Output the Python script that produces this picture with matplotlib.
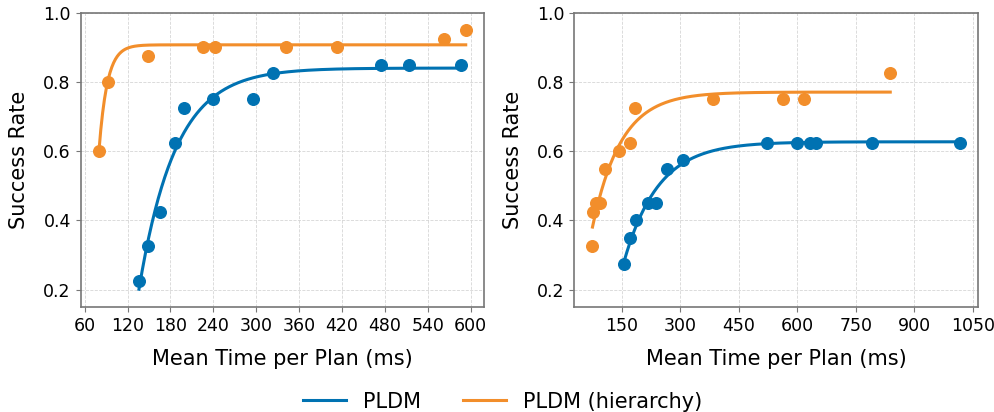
import numpy as np
import matplotlib
matplotlib.use("Agg")
from matplotlib import pyplot as plt

# left panel
left_pldm_t = [136, 149, 166, 187, 199, 239, 296, 323, 474, 514, 586]
left_pldm_sr = [0.225, 0.325, 0.425, 0.625, 0.725, 0.75, 0.75, 0.825, 0.85, 0.85, 0.85]
left_hier_t = [80, 92, 149, 225, 243, 341, 413, 563, 593]
left_hier_sr = [0.6, 0.8, 0.875, 0.9, 0.9, 0.9, 0.9, 0.925, 0.95]

# right panel
right_pldm_t = [157, 172, 187, 216, 239, 265, 308, 523, 600, 633, 647, 790, 1016]
right_pldm_sr = [0.275, 0.35, 0.4, 0.45, 0.45, 0.55, 0.575, 0.625, 0.625, 0.625, 0.625, 0.625, 0.625]
right_hier_t = [75, 76, 84, 95, 106, 142, 172, 185, 384, 563, 616, 838]
right_hier_sr = [0.325, 0.425, 0.45, 0.45, 0.55, 0.6, 0.625, 0.725, 0.75, 0.75, 0.75, 0.825]

BLUE = "#0072b2"
ORANGE = "#f28e2b"


def fit_saturating(x, y):
    # y = a - b*exp(-c*(x - x0)), least squares, grid over c
    x = np.asarray(x, float)
    y = np.asarray(y, float)
    x0 = x.min()
    best = None
    for c in np.logspace(-4, 0.5, 6000):
        e = np.exp(-c * (x - x0))
        A = np.column_stack([np.ones_like(x), -e])
        coef, *_ = np.linalg.lstsq(A, y, rcond=None)
        sse = np.sum((A @ coef - y) ** 2)
        if best is None or sse < best[0]:
            best = (sse, coef[0], coef[1], c)
    _, a, b, c = best
    xs = np.linspace(x.min(), x.max(), 400)
    return xs, a - b * np.exp(-c * (xs - x0))


plt.rcParams['font.family'] = ['DejaVu Sans']
fig = plt.figure(figsize=(9.95, 4.12), dpi=100)
ax1 = fig.add_axes([0.081, 0.255, 0.4055, 0.714])
ax2 = fig.add_axes([0.577, 0.255, 0.406, 0.714])

panels = [
    (ax1, left_pldm_t, left_pldm_sr, left_hier_t, left_hier_sr, np.arange(60, 601, 60)),
    (ax2, right_pldm_t, right_pldm_sr, right_hier_t, right_hier_sr, np.arange(150, 1051, 150)),
]

for ax, pt, ps, ht, hs, xt in panels:
    ax.grid(True, linestyle='--', color='#cccccc', linewidth=0.6, alpha=0.8)
    ax.set_axisbelow(True)
    for t, s, col, lab in [(pt, ps, BLUE, 'PLDM'), (ht, hs, ORANGE, 'PLDM (hierarchy)')]:
        ax.scatter(t, s, s=70, color=col, zorder=3)
        xs, ys = fit_saturating(t, s)
        ax.plot(xs, ys, color=col, lw=2.2, label=lab, zorder=2)
    ax.set_xticks(xt)
    ax.set_yticks([0.2, 0.4, 0.6, 0.8, 1.0])
    ax.set_ylim(0.15, 1.0)
    ax.tick_params(labelsize=12.5, color='#777777')
    for sp in ax.spines.values():
        sp.set_color('#777777')
        sp.set_linewidth(1.2)
    ax.set_xlabel('Mean Time per Plan (ms)', fontsize=15, labelpad=10)
    ax.set_ylabel('Success Rate', fontsize=15, labelpad=10)

handles, labels = ax1.get_legend_handles_labels()
fig.legend(handles, labels, loc='lower center', bbox_to_anchor=(0.505, -0.045),
           ncol=2, frameon=False, fontsize=15, columnspacing=2.0, handlelength=2.1)

fig.savefig('out.png', dpi=100)
